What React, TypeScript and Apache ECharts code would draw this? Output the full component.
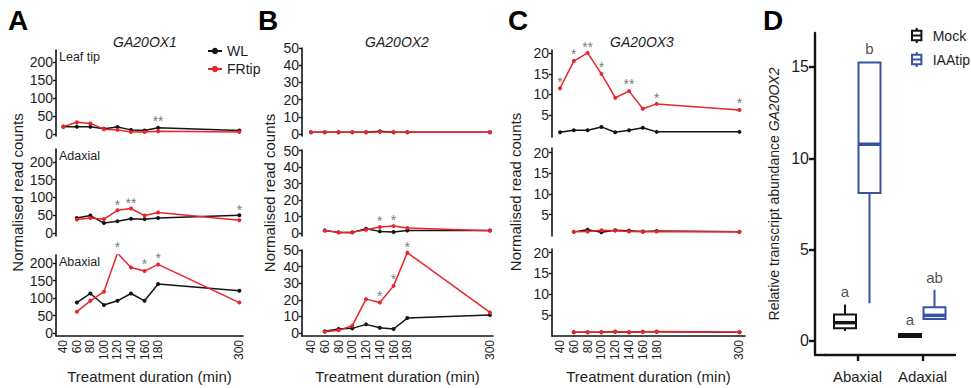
import React, { useEffect, useRef } from 'react';
import * as echarts from 'echarts';

const FONT = '"Liberation Sans", Arial, Helvetica, sans-serif';
const BLACK = '#141414';
const RED = '#e8242c';
const BLUE = '#3953a4';
const STAR = '#555555';
const TXT = '#1e1e1e';

// ---------- shared axis values ----------
const timesAll = [40, 60, 80, 100, 120, 140, 160, 180, 300];
const times60 = [60, 80, 100, 120, 140, 160, 180, 300];
const xTickValues = [40, 60, 80, 100, 120, 140, 160, 180, 300];

const yTicksA = [0, 50, 100, 150, 200];
const yTicksB = [0, 10, 20, 30, 40, 50];
const yTicksC = [5, 10, 15, 20];
const yTicksD = [0, 5, 10, 15];

// ---------- A: GA20OX1 ----------
const a1LeafWL = [20, 20, 20, 14, 19, 11, 9, 17, 9];
const a1LeafFR = [20, 32, 29, 13, 11, 5, 5, 7, 5];
const a1AdaxWL = [42, 49, 28, 33, 40, 39, 42, 50];
const a1AdaxFR = [38, 42, 39, 64, 69, 49, 58, 36];
const a1AbaxWL = [87, 113, 80, 92, 113, 92, 140, 121];
const a1AbaxFR = [61, 92, 118, 228, 187, 177, 196, 87];
const starsA1Leaf = [[180, 46, '**']];
const starsA1Adax = [[120, 91, '*'], [140, 96, '**'], [300, 77, '*']];
const starsA1Abax = [[120, 258, '*'], [160, 210, '*'], [180, 226, '*']];

// ---------- B: GA20OX2 ----------
const b2LeafWL = [1, 1, 1, 1, 1, 1.5, 1, 1, 1];
const b2LeafFR = [1, 1, 1, 1, 1, 1.2, 1, 1, 1];
const b2AdaxWL = [1.6, 0.4, 0.4, 2.6, 1, 0.6, 1.6, 1.6];
const b2AdaxFR = [1.6, 0.4, 0.4, 2, 3.6, 4.2, 3, 1.4];
const b2AbaxWL = [1, 2.4, 2.8, 5.2, 3.2, 2.4, 9, 10.8];
const b2AbaxFR = [0.8, 1.6, 4.4, 20.4, 18.4, 28.4, 48.4, 12.4];
const starsB2Leaf: any[] = [];
const starsB2Adax = [[140, 9.5, '*'], [160, 10.5, '*']];
const starsB2Abax = [[140, 24.5, '*'], [160, 35, '*'], [180, 54, '*']];

// ---------- C: GA20OX3 ----------
const c3LeafWL = [0.8, 1.3, 1.3, 2.1, 0.8, 1.3, 1.9, 0.9, 0.9];
const c3LeafFR = [11.5, 18.1, 20.1, 15, 9.2, 10.8, 6.5, 7.7, 6.2];
const c3AdaxWL = [0.8, 1.3, 0.7, 1.2, 1.1, 0.9, 1, 0.8];
const c3AdaxFR = [0.8, 0.9, 1.2, 1.1, 0.9, 0.8, 0.9, 0.8];
const c3AbaxWL = [0.8, 0.8, 0.8, 0.9, 0.8, 0.9, 0.9, 0.8];
const c3AbaxFR = [0.8, 0.8, 0.8, 1.0, 0.8, 0.9, 1.0, 0.8];
const starsC3Leaf = [[40, 14.1, '*'], [60, 20.7, '*'], [80, 22.6, '**'], [100, 17.6, '*'], [140, 13.4, '**'], [180, 10.1, '*'], [300, 8.8, '*']];
const starsC3Adax: any[] = [];
const starsC3Abax: any[] = [];

// ---------- D: GA20OX2 qPCR boxplots ----------
const dCategories = ['Abaxial', 'Adaxial'];
// [min, Q1, median, Q3, max]
const mockBoxes = [[0.55, 0.7, 1.0, 1.45, 2.0], [0.2, 0.22, 0.3, 0.38, 0.42]];
const iaaBoxes = [[2.06, 8.1, 10.77, 15.25, 15.25], [1.2, 1.2, 1.4, 1.85, 2.8]];
const mockLetters = ['a', 'a'];
const mockLetterY = [2.7, 1.15];
const iaaLetters = ['b', 'ab'];
const iaaLetterY = [16.0, 3.5];

const geneTitles = ['GA20OX1', 'GA20OX2', 'GA20OX3'];
const tissueLabels = ['Leaf tip', 'Adaxial', 'Abaxial'];

// ---------- layout (pixels) ----------
const colLayout = [
  { left: 56, width: 187, xmin: 29.2, xmax: 305.4, yTicks: yTicksA, nameGap: 31, titleX: 145, letterX: 8, letter: 'A' },
  { left: 302, width: 191, xmin: 26.9, xmax: 304.5, yTicks: yTicksB, nameGap: 25, titleX: 397, letterX: 258, letter: 'B' },
  { left: 552, width: 193, xmin: 28.4, xmax: 308, yTicks: yTicksC, nameGap: 29, titleX: 642, letterX: 508, letter: 'C' },
];
const rowLayout = [
  [{ top: 50, height: 86, ymin: -6, ymax: 233 }, { top: 149, height: 87, ymin: -8.5, ymax: 236.6 }, { top: 255, height: 81, ymin: -8.6, ymax: 223 }],
  [{ top: 48, height: 88, ymin: -1.2, ymax: 50 }, { top: 150, height: 86, ymin: -1.8, ymax: 50.4 }, { top: 250, height: 86, ymin: -1.8, ymax: 50 }],
  [{ top: 50, height: 87, ymin: -0.35, ymax: 20.8 }, { top: 148, height: 88, ymin: -0.2, ymax: 21.1 }, { top: 249, height: 87, ymin: -0.1, ymax: 20.9 }],
];
const panelData = [
  [
    { t: timesAll, wl: a1LeafWL, fr: a1LeafFR, stars: starsA1Leaf },
    { t: times60, wl: a1AdaxWL, fr: a1AdaxFR, stars: starsA1Adax },
    { t: times60, wl: a1AbaxWL, fr: a1AbaxFR, stars: starsA1Abax },
  ],
  [
    { t: timesAll, wl: b2LeafWL, fr: b2LeafFR, stars: starsB2Leaf },
    { t: times60, wl: b2AdaxWL, fr: b2AdaxFR, stars: starsB2Adax },
    { t: times60, wl: b2AbaxWL, fr: b2AbaxFR, stars: starsB2Abax },
  ],
  [
    { t: timesAll, wl: c3LeafWL, fr: c3LeafFR, stars: starsC3Leaf },
    { t: times60, wl: c3AdaxWL, fr: c3AdaxFR, stars: starsC3Adax },
    { t: times60, wl: c3AbaxWL, fr: c3AbaxFR, stars: starsC3Abax },
  ],
];

const BOX_W = 22;

function makeBoxRenderer(color: string, off: number) {
  return (params: any, api: any) => {
    const cat = api.value(0);
    const pMin = api.coord([cat, api.value(1)]);
    const pQ1 = api.coord([cat, api.value(2)]);
    const pMed = api.coord([cat, api.value(3)]);
    const pQ3 = api.coord([cat, api.value(4)]);
    const pMax = api.coord([cat, api.value(5)]);
    const x = pMed[0] + off;
    const stroke = { stroke: color, lineWidth: 2, fill: 'none' };
    return {
      type: 'group',
      children: [
        { type: 'line', shape: { x1: x, y1: pQ1[1], x2: x, y2: pMin[1] }, style: stroke },
        { type: 'line', shape: { x1: x, y1: pQ3[1], x2: x, y2: pMax[1] }, style: stroke },
        {
          type: 'rect',
          shape: { x: x - BOX_W / 2, y: pQ3[1], width: BOX_W, height: Math.max(pQ1[1] - pQ3[1], 0.5) },
          style: { stroke: color, lineWidth: 2, fill: '#ffffff' },
        },
        { type: 'line', shape: { x1: x - BOX_W / 2, y1: pMed[1], x2: x + BOX_W / 2, y2: pMed[1] }, style: { stroke: color, lineWidth: 3.5 } },
      ],
    };
  };
}

function buildOption() {
  const grid: any[] = [];
  const xAxis: any[] = [];
  const yAxis: any[] = [];
  const series: any[] = [];
  const graphic: any[] = [];

  colLayout.forEach((col, c) => {
    rowLayout[c].forEach((row, r) => {
      const idx = grid.length;
      grid.push({ left: col.left, top: row.top, width: col.width, height: row.height, outerBoundsMode: 'none', containLabel: false });
      const isBottom = r === 2;
      xAxis.push({
        gridIndex: idx,
        type: 'value',
        min: col.xmin,
        max: col.xmax,
        splitLine: { show: false },
        axisLine: { show: isBottom, onZero: false, lineStyle: { color: BLACK, width: 1.6 } },
        axisTick: { show: false },
        axisLabel: {
          show: isBottom,
          customValues: xTickValues,
          rotate: 90,
          fontSize: 12,
          color: TXT,
          margin: 4,
          fontFamily: FONT,
        },
        name: isBottom ? 'Treatment duration (min)' : '',
        nameLocation: 'middle',
        nameGap: 33,
        nameTextStyle: { fontSize: 15, color: TXT, fontFamily: FONT },
      });
      yAxis.push({
        gridIndex: idx,
        type: 'value',
        min: row.ymin,
        max: row.ymax,
        splitLine: { show: false },
        axisLine: { show: true, onZero: false, lineStyle: { color: BLACK, width: 1.6 } },
        axisTick: { show: true, customValues: col.yTicks, length: 3, lineStyle: { color: BLACK, width: 1.4 } },
        axisLabel: { customValues: col.yTicks, fontSize: 14, color: TXT, margin: 3, fontFamily: FONT },
        name: r === 1 ? 'Normalised read counts' : '',
        nameLocation: 'middle',
        nameRotate: 90,
        nameGap: col.nameGap,
        nameTextStyle: { fontSize: 15, color: TXT, fontFamily: FONT },
      });
      const d = panelData[c][r];
      series.push({
        type: 'line', name: 'WL', xAxisIndex: idx, yAxisIndex: idx,
        data: d.t.map((t, i) => [t, d.wl[i]]),
        symbol: 'circle', symbolSize: 4, showSymbol: true,
        lineStyle: { color: BLACK, width: 1.5 }, itemStyle: { color: BLACK },
        z: 2,
      });
      series.push({
        type: 'line', name: 'FRtip', xAxisIndex: idx, yAxisIndex: idx,
        data: d.t.map((t, i) => [t, d.fr[i]]),
        symbol: 'circle', symbolSize: 4, showSymbol: true,
        lineStyle: { color: RED, width: 1.5 }, itemStyle: { color: RED },
        z: 3,
      });
      if (d.stars.length) {
        series.push({
          type: 'scatter', name: 'sig', xAxisIndex: idx, yAxisIndex: idx,
          data: d.stars, symbolSize: 1, clip: false,
          itemStyle: { color: 'rgba(0,0,0,0)' },
          label: {
            show: true, position: 'inside', formatter: (p: any) => p.value[2],
            color: STAR, fontSize: 14, fontFamily: FONT, offset: [0, 4],
          },
          z: 4,
        });
      }
      if (c === 0) {
        graphic.push({
          type: 'text', left: col.left + 3, top: row.top,
          style: { text: tissueLabels[r], font: `12.5px ${FONT}`, fill: TXT },
        });
      }
    });
    graphic.push({
      type: 'text', x: col.titleX, y: 42,
      style: { text: geneTitles[c], font: `italic 14px ${FONT}`, fill: TXT, align: 'center', verticalAlign: 'middle' },
    });
    graphic.push({
      type: 'text', x: col.letterX, y: 6,
      style: { text: col.letter, font: `bold 28px ${FONT}`, fill: '#000', align: 'left', verticalAlign: 'top' },
    });
  });

  // ----- panel D -----
  const dIdx = grid.length;
  grid.push({ left: 825, top: 33, width: 130, height: 322, outerBoundsMode: 'none', containLabel: false });
  xAxis.push({
    gridIndex: dIdx, type: 'category', data: dCategories,
    axisLine: { show: true, onZero: false, lineStyle: { color: BLACK, width: 2.4 } },
    axisTick: { show: true, alignWithLabel: true, length: 6, lineStyle: { color: BLACK, width: 2.4 } },
    axisLabel: { fontSize: 15, color: TXT, margin: 14, fontFamily: FONT },
    splitLine: { show: false },
  });
  yAxis.push({
    gridIndex: dIdx, type: 'value', min: -0.77, max: 16.86, offset: 10,
    splitLine: { show: false },
    axisLine: { show: true, onZero: false, lineStyle: { color: BLACK, width: 2.4 } },
    axisTick: { show: true, customValues: yTicksD, length: 6, lineStyle: { color: BLACK, width: 2.4 } },
    axisLabel: { customValues: yTicksD, fontSize: 16, color: TXT, margin: 6, fontFamily: FONT },
    name: 'Relative transcript abundance {it|GA20OX2}',
    nameLocation: 'middle', nameRotate: 90, nameGap: 34,
    nameTextStyle: { fontSize: 14, color: TXT, fontFamily: FONT, rich: { it: { fontSize: 14, fontStyle: 'italic', color: TXT, fontFamily: FONT } } },
  });
  const boxDefs = [
    { name: 'Mock', boxes: mockBoxes, color: BLACK, off: -12.5, letters: mockLetters, ly: mockLetterY },
    { name: 'IAAtip', boxes: iaaBoxes, color: BLUE, off: 12, letters: iaaLetters, ly: iaaLetterY },
  ];
  boxDefs.forEach((b) => {
    series.push({
      type: 'custom', name: b.name, xAxisIndex: dIdx, yAxisIndex: dIdx,
      data: b.boxes.map((bx, i) => [i, ...bx]),
      encode: { x: 0, y: [1, 2, 3, 4, 5] },
      renderItem: makeBoxRenderer(b.color, b.off),
      itemStyle: { color: '#ffffff', borderColor: b.color },
      clip: false,
      z: 2,
    });
    series.push({
      type: 'scatter', name: b.name + ' letters', xAxisIndex: dIdx, yAxisIndex: dIdx,
      data: b.ly.map((y, i) => [dCategories[i], y, b.letters[i]]),
      symbolSize: 1, itemStyle: { color: 'rgba(0,0,0,0)' }, clip: false,
      label: { show: true, position: 'inside', offset: [b.off, 0], formatter: (p: any) => p.value[2], fontSize: 15, color: TXT, fontFamily: FONT },
      z: 4,
    });
  });
  graphic.push({
    type: 'line', shape: { x1: 815, y1: 355, x2: 826, y2: 355 },
    style: { stroke: BLACK, lineWidth: 2.4 },
  });
  graphic.push({
    type: 'text', x: 763, y: 6,
    style: { text: 'D', font: `bold 28px ${FONT}`, fill: '#000', align: 'left', verticalAlign: 'top' },
  });

  const boxIcon = 'path://M5,0 L5,3 M0,3 L10,3 L10,13 L0,13 Z M0,8 L10,8 M5,13 L5,16';

  return {
    animation: false,
    backgroundColor: '#ffffff',
    textStyle: { fontFamily: FONT },
    grid, xAxis, yAxis, series, graphic,
    legend: [
      {
        data: ['WL', 'FRtip'], orient: 'vertical', left: 202, top: 39,
        itemWidth: 14, itemHeight: 8, itemGap: 4,
        textStyle: { fontSize: 14, color: TXT, fontFamily: FONT },
      },
      {
        data: [
          { name: 'Mock', icon: boxIcon, itemStyle: { color: '#fff', borderColor: BLACK, borderWidth: 2 } },
          { name: 'IAAtip', icon: boxIcon, itemStyle: { color: '#fff', borderColor: BLUE, borderWidth: 2 } },
        ],
        orient: 'vertical', left: 906, top: 22,
        itemWidth: 10, itemHeight: 15, itemGap: 7,
        textStyle: { fontSize: 14, color: TXT, fontFamily: FONT, padding: [0, 0, 0, 6] },
      },
    ],
  };
}

export default function App() {
  const ref = useRef<HTMLDivElement>(null);
  useEffect(() => {
    if (!ref.current) return;
    const chart = echarts.init(ref.current, undefined, { renderer: 'svg' });
    chart.setOption(buildOption() as any);
    return () => chart.dispose();
  }, []);
  return <div ref={ref} style={{ position: 'fixed', left: 0, top: 0, width: 971, height: 388, background: '#fff' }} />;
}
